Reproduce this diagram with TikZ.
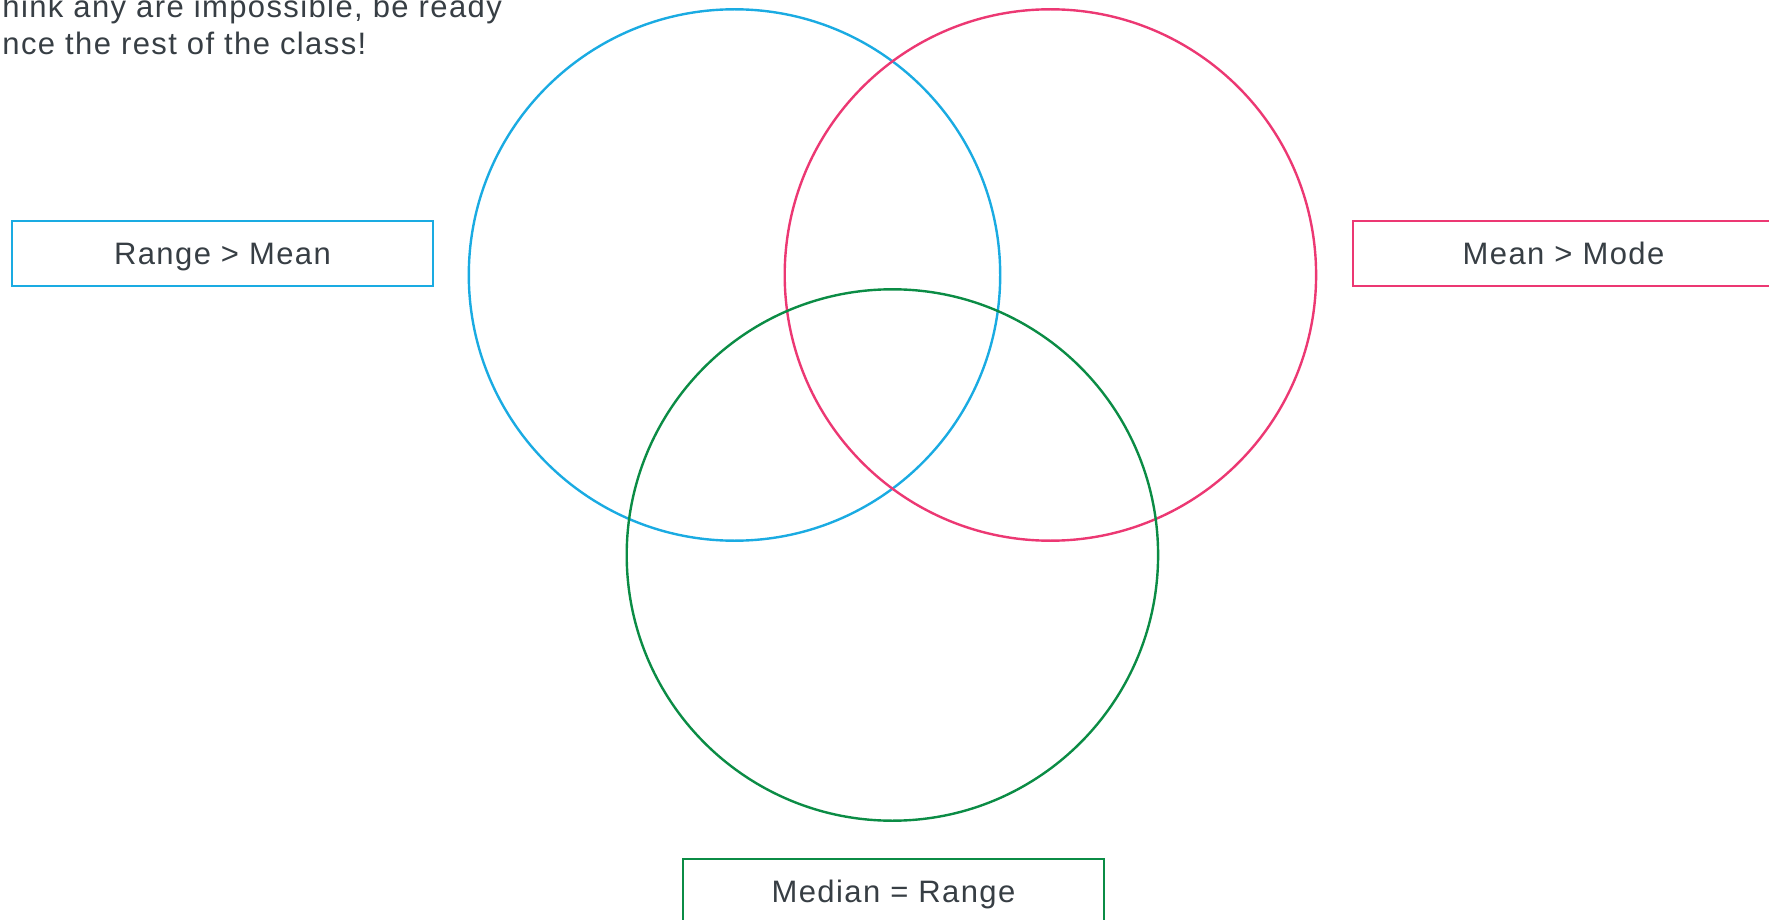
\documentclass[tikz,border=0pt]{standalone}
\usepackage{fontspec}
\setmainfont{Liberation Sans}[LetterSpace=4.5]
\usepackage{xcolor}
\usetikzlibrary{positioning}
\definecolor{vennblue}{HTML}{1AABE2}
\definecolor{vennred}{HTML}{EC3873}
\definecolor{venngreen}{HTML}{0B8C45}
\definecolor{venntext}{HTML}{373E44}

\begin{document}
\begin{tikzpicture}[
  x=0.5pt, y=-0.5pt,
  font=\fontsize{15.5pt}{18pt}\selectfont\color{venntext},
  ring/.style={circle,line width=1.2pt,minimum size=265.7pt,inner sep=0pt},
  tag/.style={rectangle,line width=1.3pt,minimum width=210.5pt,minimum height=32.5pt,inner sep=0pt,text height=11.1pt,text depth=0pt},
  note/.style={anchor=base west,inner sep=0pt},
]
\useasboundingbox (0,0) rectangle (1769,920);

% instructions, cut off at the page edge
\node[note] (noteone) at (2,18) {hink any are impossible, be ready};
\node[note] (notetwo) at (2,55) {nce the rest of the class!};

% the three sets
\node[ring,draw=vennblue] (rmean) at (734.5,275) {};
\node[ring,draw=vennred] (mmode) at (1050.4,275) {};
\node[ring,draw=venngreen] (mrange) at (892.4,555) {};

% labels
\node[tag,draw=vennblue] (rmeanlab) at (222.5,253.5) {Range > Mean};
\node[tag,draw=vennred] (mmodelab) at (1563.5,253.5) {Mean > Mode};
\node[tag,draw=venngreen] (mrangelab) at (893.5,891.5) {Median = Range};
\end{tikzpicture}
\end{document}
